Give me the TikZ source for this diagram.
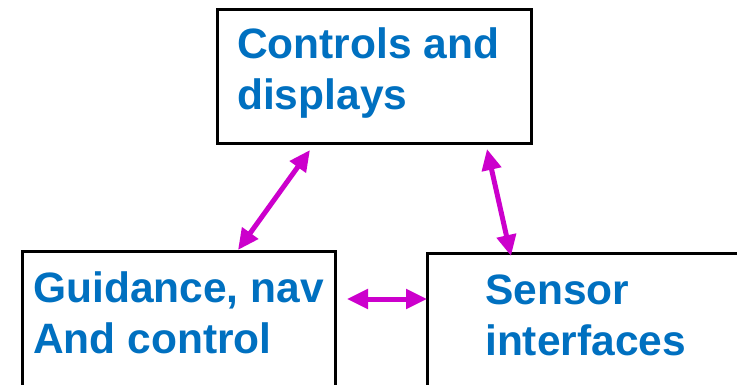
\documentclass[tikz,border=0pt]{standalone}
\usepackage{fontspec}
\setmainfont{Liberation Sans}
\usetikzlibrary{arrows.meta,calc}
\definecolor{txtblue}{HTML}{0070C0}
\definecolor{arrmag}{HTML}{CC00CC}
\begin{document}
\begin{tikzpicture}[x=1pt,y=-1pt,
  box/.style={draw=black,line width=3pt,outer sep=0pt,inner sep=0pt,anchor=north west},
  lbl/.style={anchor=base west,text=txtblue,font=\fontsize{42.5}{51}\selectfont\bfseries,align=left,inner sep=0pt},
  link/.style={arrmag,line width=5pt,{Triangle[length=21pt,width=19pt]}-{Triangle[length=21pt,width=19pt]}}]
\useasboundingbox (0,0) rectangle (737,385);
\fill[white] (0,0) rectangle (737,385);
\clip (0,0) rectangle (737,385);
\node[box,minimum width=314pt,minimum height=134pt] (ctrl) at (217,10) {};
\node[box,minimum width=313pt,minimum height=135pt] (gnc) at (22,251) {};
\node[box,minimum width=340pt,minimum height=170pt] (sens) at (427,253) {};
\node[lbl] (ctrltxt) at (237,110) {Controls and\\displays};
\node[lbl] (gnctxt) at (33,353) {Guidance, nav\\And control};
\node[lbl] (senstxt) at (485,355) {Sensor\\interfaces};
\draw[link] ($(ctrl.south west)+(93,6)$) -- ($(gnc.north west)+(216,-1)$);
\draw[link] ($(ctrl.south west)+(270,5)$) -- ($(sens.north west)+(84,3)$);
\draw[link] ($(gnc.north east)+(12,48)$) -- ($(sens.north west)+(0,46)$);
\end{tikzpicture}
\end{document}
